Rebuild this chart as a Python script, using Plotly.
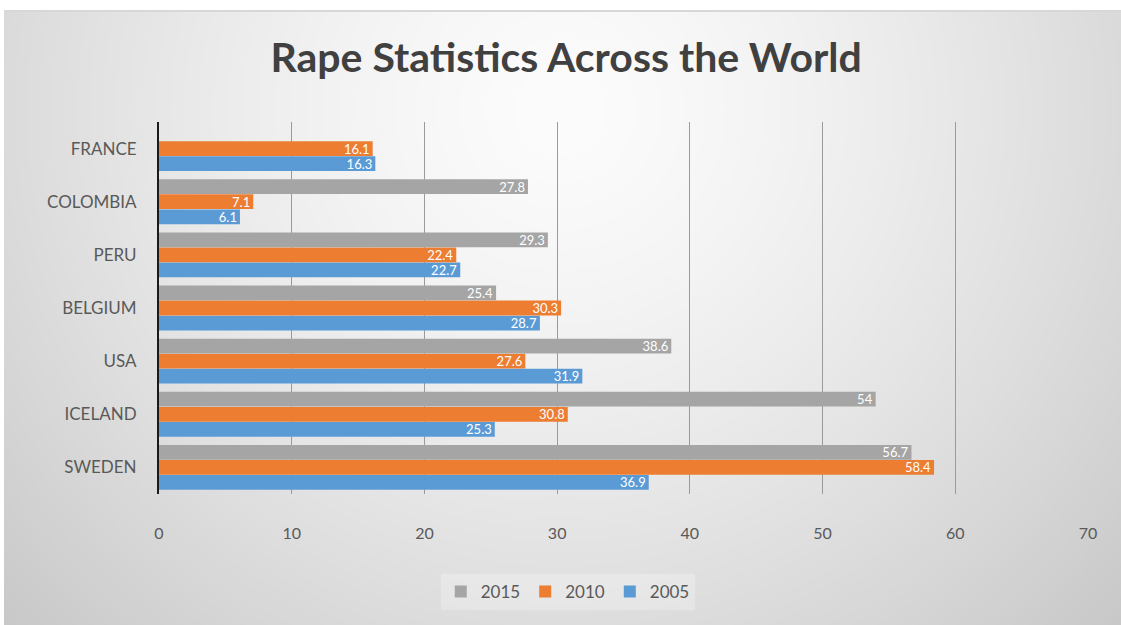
import base64, struct, zlib
import numpy as np
import plotly.graph_objects as go

countries = ["SWEDEN", "ICELAND", "USA", "BELGIUM", "PERU", "COLOMBIA", "FRANCE"]
v2015 = [56.7, 54, 38.6, 25.4, 29.3, 27.8, None]
v2010 = [58.4, 30.8, 27.6, 30.3, 22.4, 7.1, 16.1]
v2005 = [36.9, 25.3, 31.9, 28.7, 22.7, 6.1, 16.3]
x_ticks = [0, 10, 20, 30, 40, 50, 60, 70]

W, H = 1121, 625
L, R, T, B = 159, 33, 122, 131


def png_data_uri(arr):
    h, w = arr.shape
    raw = b"".join(b"\x00" + arr[i].tobytes() for i in range(h))

    def chunk(tag, data):
        c = struct.pack(">I", len(data)) + tag + data
        return c + struct.pack(">I", zlib.crc32(tag + data) & 0xffffffff)

    png = b"\x89PNG\r\n\x1a\n" + chunk(b"IHDR", struct.pack(">IIBBBBB", w, h, 8, 0, 0, 0, 0))
    png += chunk(b"IDAT", zlib.compress(raw, 9)) + chunk(b"IEND", b"")
    return "data:image/png;base64," + base64.b64encode(png).decode()


yy, xx = np.mgrid[0:H, 0:W].astype(float)
d = np.sqrt(((xx - 560) / 640) ** 2 + ((yy - 110) / 620) ** 2)
val = 252 - 40 * np.clip(d, 0, 1.3) ** 1.4
val[:10, :] = 255
val[10:12, :] = 215
val[:, :4] = 255
arr = np.clip(val, 0, 255).astype(np.uint8)
bg = png_data_uri(arr)

pw = W - L - R
ph = H - T - B

font = "Lato, 'Open Sans', sans-serif"

fig = go.Figure()
for name, vals, col in [("2005", v2005, "#5B9BD5"), ("2010", v2010, "#ED7D31"), ("2015", v2015, "#A5A5A5")]:
    fig.add_trace(go.Bar(
        y=countries, x=vals, name=name, orientation="h",
        marker=dict(color=col, line=dict(width=0)),
        text=[("" if v is None else (str(v))) for v in vals],
        textposition="inside", insidetextanchor="end", constraintext="none", textangle=0,
        textfont=dict(color="white", size=13, family=font),
    ))

fig.update_layout(
    width=W, height=H,
    margin=dict(l=L, r=R, t=T, b=B),
    paper_bgcolor="white", plot_bgcolor="rgba(0,0,0,0)",
    barmode="group", bargap=0.15, bargroupgap=0.02,
    title=dict(text="<b>Rape Statistics Across the World</b>", x=0.505, xanchor="center",
               y=1 - 58 / H, yanchor="middle",
               font=dict(size=41, color="#404040", family=font)),
    images=[dict(source=bg, xref="paper", yref="paper", x=-L / pw, y=1 + T / ph,
                 sizex=W / pw, sizey=H / ph, xanchor="left", yanchor="top",
                 sizing="stretch", layer="below")],
    legend=dict(orientation="h", x=0.44, xanchor="center", y=-(592 - (H - B)) / ph, yanchor="middle",
                traceorder="reversed", font=dict(size=17, color="#595959", family=font),
                bgcolor="rgba(255,255,255,0.25)", itemwidth=30),
    xaxis=dict(range=[0, 70], tickvals=x_ticks, showgrid=True, gridcolor="#9a9a9a", gridwidth=1,
               zeroline=False, showline=False, ticks="", ticklabelstandoff=28,
               tickfont=dict(size=16, color="#595959", family=font)),
    yaxis=dict(categoryorder="array", categoryarray=countries, showline=True, linecolor="#1a1a1a",
               linewidth=2, ticks="", showgrid=False, ticklabelstandoff=17,
               tickfont=dict(size=17, color="#595959", family=font)),
)

fig.write_html("out.html")
